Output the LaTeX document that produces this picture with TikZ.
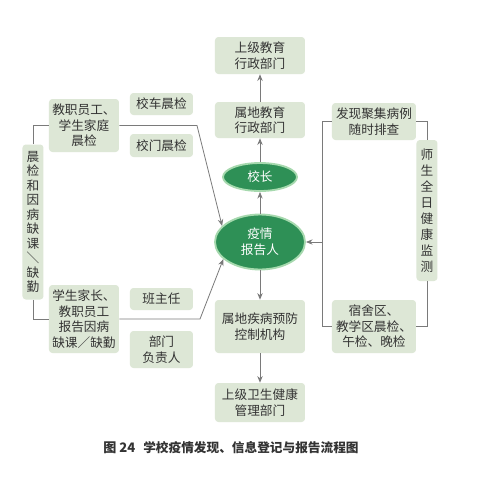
\documentclass[tikz,border=0pt]{standalone}
\usepackage{fontspec}
\setmainfont{Noto Sans CJK SC}
\usetikzlibrary{arrows.meta,shapes.geometric}
\definecolor{boxfill}{HTML}{DDE7D6}
\definecolor{ellfill}{HTML}{2E9056}
\definecolor{ellrim}{HTML}{A6D9AE}
\definecolor{lncol}{HTML}{7A7A7A}
\definecolor{txt}{HTML}{333333}
\tikzset{
  bx/.style={draw=none,fill=boxfill,rounded corners=2.5pt,inner sep=0pt,align=center,
    text=txt,font=\fontsize{9.5}{11.6}\selectfont},
  el/.style={ellipse,draw=ellrim,line width=1.4pt,fill=ellfill,inner sep=0pt,align=center,
    text=white,font=\fontsize{9.5}{12}\selectfont},
  ln/.style={draw=lncol,line width=0.6pt},
  arr/.style={ln,-{Stealth[length=5pt,width=4pt]}},
}
\begin{document}
\begin{tikzpicture}[x=0.75pt,y=-0.75pt]
\useasboundingbox[fill=white] (0,0) rectangle (480,480);
% centre column
\node[bx,minimum width=67.5pt,minimum height=27.75pt] (sj) at (260,55.5) {上级教育\\行政部门};
\node[bx,minimum width=67.5pt,minimum height=27pt] (sd) at (260,120) {属地教育\\行政部门};
\node[el,minimum width=55.5pt,minimum height=21pt] (xz) at (260,177) {校长};
\node[el,minimum width=67.5pt,minimum height=41.25pt] (yq) at (260,242) {疫情\\报告人};
\node[bx,minimum width=67.5pt,minimum height=39.75pt] (jk) at (260,326.5) {属地疾病预防\\控制机构};
\node[bx,minimum width=67.5pt,minimum height=29.25pt] (ws) at (260,402.5) {上级卫生健康\\管理部门};
% left side
\node[bx,minimum width=52.5pt,minimum height=39.75pt] (jz) at (84,125.5) {教职员工、\\学生家庭\\晨检};
\node[bx,minimum width=47.25pt,minimum height=16.5pt] (xc) at (161.5,104) {校车晨检};
\node[bx,minimum width=47.25pt,minimum height=17.25pt] (xm) at (161.5,145.5) {校门晨检};
\node[bx,minimum width=15.75pt,minimum height=116.25pt,font=\fontsize{9.5}{10.9}\selectfont] (lv) at (33,222)
  {晨\\检\\和\\因\\病\\缺\\课\\\rotatebox[origin=c]{-90}{／}\\缺\\勤};
\node[bx,minimum width=52.5pt,minimum height=51pt] (xs) at (84,319) {学生家长、\\教职员工\\报告因病\\缺课／缺勤};
\node[bx,minimum width=47.25pt,minimum height=16.5pt] (bz) at (161.5,299) {班主任};
\node[bx,minimum width=47.25pt,minimum height=27.75pt] (bm) at (161.5,349.5) {部门\\负责人};
% right side
\node[bx,minimum width=63pt,minimum height=27.75pt] (fx) at (374,121.5) {发现聚集病例\\随时排查};
\node[bx,minimum width=15.75pt,minimum height=105.75pt,font=\fontsize{9.5}{12}\selectfont] (rv) at (427,210.5)
  {师\\生\\全\\日\\健\\康\\监\\测};
\node[bx,minimum width=63pt,minimum height=39.75pt] (ss) at (374,326.5) {宿舍区、\\教学区晨检、\\午检、晚检};
% connectors centre
\draw[arr] (sd) -- (sj);
\draw[arr] (xz) -- (sd);
\draw[arr] (yq) -- (xz);
\draw[arr] (yq) -- (jk);
\draw[arr] (jk) -- (ws);
% connectors left
\draw[ln] (lv.north) |- (jz.west);
\draw[ln] (lv.south) |- (xs.west);
\coordinate (c1) at (197,125.5);
\coordinate (c2) at (200,319);
\draw[arr] (jz.east) -- (c1) -- (yq.157);
\draw[arr] (xs.east) -- (c2) -- (yq.205);
% connectors right
\coordinate (c3) at (322,121.5);
\coordinate (c4) at (322,326.5);
\coordinate (c5) at (322,242);
\draw[ln] (fx.west) -- (c3) -- (c4) -- (ss.west);
\draw[arr] (c5) -- (yq.east);
\draw[ln] (fx.east) -| (rv.north);
\draw[ln] (rv.south) |- (ss.east);
% caption
\node[anchor=west,inner sep=0pt,font=\fontsize{9.8}{12}\selectfont\bfseries,text=txt] (cap1) at (103,448) {图 24};
\node[anchor=west,inner sep=0pt,font=\fontsize{9.5}{12}\selectfont\bfseries,text=txt] (cap2) at (143,448) {学校疫情发现、信息登记与报告流程图};
\end{tikzpicture}
\end{document}
